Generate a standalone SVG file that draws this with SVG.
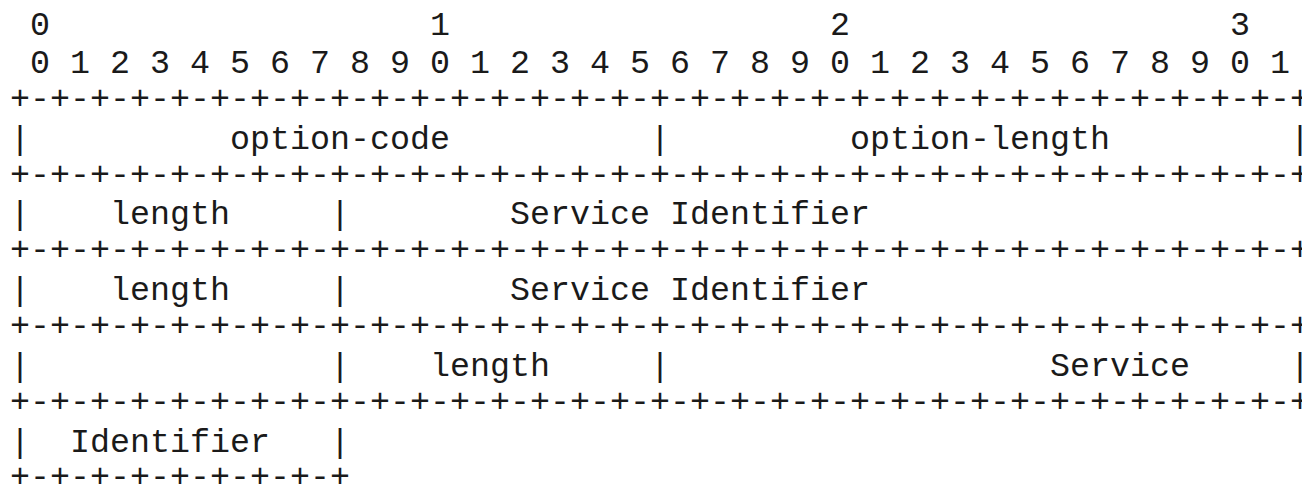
<svg xmlns="http://www.w3.org/2000/svg" width="1302" height="491" viewBox="0 0 1302 491">
<style>
text{font-family:"Liberation Mono","DejaVu Sans Mono",monospace;font-size:33.333px;fill:#1a1a1a;white-space:pre}
</style>
<rect width="1302" height="491" fill="#fff"/>
<g id="bit-ruler">
<text x="10" y="35" xml:space="preserve"> 0                   1                   2                   3</text>
<text x="10" y="72.9" xml:space="preserve"> 0 1 2 3 4 5 6 7 8 9 0 1 2 3 4 5 6 7 8 9 0 1 2 3 4 5 6 7 8 9 0 1</text>
</g>
<g id="borders">
<text x="10" y="108.7" xml:space="preserve">+-+-+-+-+-+-+-+-+-+-+-+-+-+-+-+-+-+-+-+-+-+-+-+-+-+-+-+-+-+-+-+-+</text>
<text x="10" y="184.5" xml:space="preserve">+-+-+-+-+-+-+-+-+-+-+-+-+-+-+-+-+-+-+-+-+-+-+-+-+-+-+-+-+-+-+-+-+</text>
<text x="10" y="260.2" xml:space="preserve">+-+-+-+-+-+-+-+-+-+-+-+-+-+-+-+-+-+-+-+-+-+-+-+-+-+-+-+-+-+-+-+-+</text>
<text x="10" y="336" xml:space="preserve">+-+-+-+-+-+-+-+-+-+-+-+-+-+-+-+-+-+-+-+-+-+-+-+-+-+-+-+-+-+-+-+-+</text>
<text x="10" y="411.7" xml:space="preserve">+-+-+-+-+-+-+-+-+-+-+-+-+-+-+-+-+-+-+-+-+-+-+-+-+-+-+-+-+-+-+-+-+</text>
<text x="10" y="487.4" xml:space="preserve">+-+-+-+-+-+-+-+-+</text>
</g>
<g id="row-option">
<text x="10" y="148.6" xml:space="preserve">|          option-code          |         option-length         |</text>
</g>
<g id="row-service-1">
<text x="10" y="224.4" xml:space="preserve">|    length     |        Service Identifier</text>
</g>
<g id="row-service-2">
<text x="10" y="300.1" xml:space="preserve">|    length     |        Service Identifier</text>
</g>
<g id="row-service-3">
<text x="10" y="375.8" xml:space="preserve">|               |    length     |                   Service     |</text>
</g>
<g id="row-service-3-cont">
<text x="10" y="451.6" xml:space="preserve">|  Identifier   |</text>
</g>
</svg>
